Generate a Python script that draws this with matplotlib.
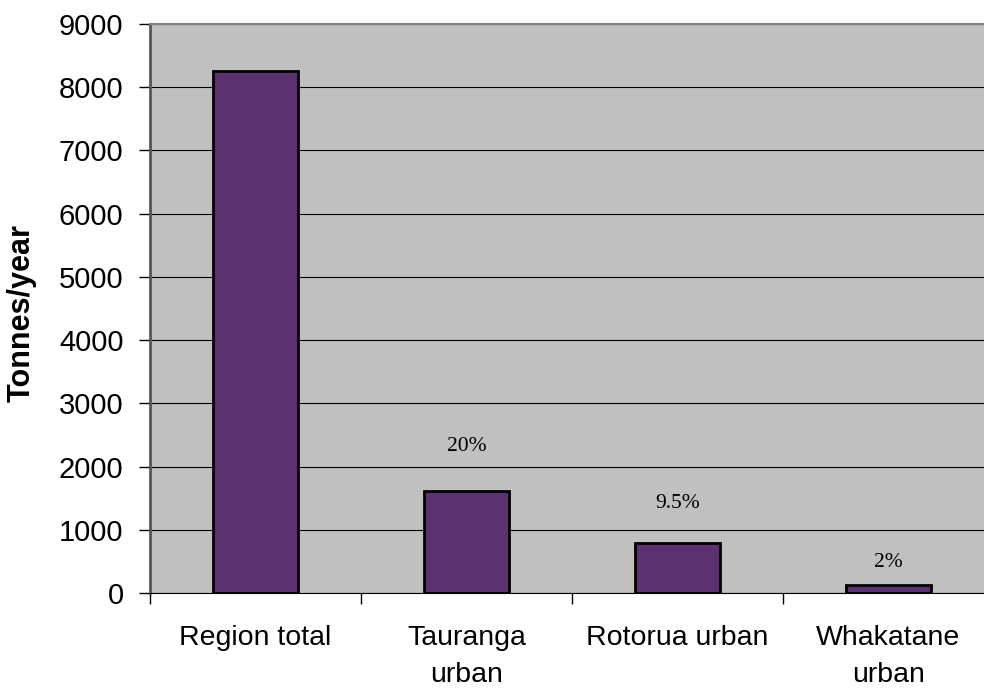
import numpy as np
import matplotlib
matplotlib.use('Agg')
import matplotlib.pyplot as plt

plt.rcParams['font.family'] = ['Liberation Sans', 'DejaVu Sans']

categories = ['Region total', 'Tauranga\nurban', 'Rotorua urban', 'Whakatane\nurban']
tonnes = [8260, 1610, 790, 130]
shares = ['', '20%', '9.5%', '2%']
share_y = [None, 2320, 1420, 480]

fig = plt.figure(figsize=(9.84, 6.89), dpi=100)
# plot area runs a little past the right edge of the canvas
ax = fig.add_axes([150/984, 1 - 593/689, 844/984, 569/689])
ax.set_facecolor('#c0c0c0')

x = np.arange(len(categories))
ax.bar(x, tonnes, width=0.4, color='#5c3170', edgecolor='black', linewidth=2, zorder=3)

for xi, s, sy in zip(x, shares, share_y):
    if s:
        ax.text(xi, sy, s, ha='center', va='center', fontsize=15.5,
                family='Liberation Serif', color='black', zorder=4)

ax.set_xlim(-0.5, len(categories) - 0.5)
ax.set_ylim(0, 9000)
ax.set_yticks(np.arange(0, 9001, 1000))
ax.yaxis.grid(True, color='black', linewidth=0.8, zorder=1)
ax.set_axisbelow(True)

ax.set_xticks(np.arange(-0.5, len(categories), 1.0))
ax.set_xticklabels([])
ax.set_xticks(x, minor=True)
ax.set_xticklabels(categories, minor=True, fontsize=20.5, linespacing=1.55)
ax.tick_params(axis='x', which='minor', length=0, pad=23)
ax.tick_params(axis='x', which='major', length=8, width=1, direction='out')
ax.tick_params(axis='y', length=8, width=1, direction='out', labelsize=21, pad=11)

ax.spines['left'].set_color('#555555')
ax.spines['left'].set_linewidth(2)
ax.spines['top'].set_color('#808080')
ax.spines['top'].set_linewidth(1.5)
ax.spines['bottom'].set_color('black')
ax.spines['right'].set_visible(False)

ax.set_ylabel('Tonnes/year', fontsize=22, fontweight='bold')
ax.yaxis.set_label_coords((37 - 150)/844, (593 - 313)/569)

plt.savefig('out.png', dpi=100)
